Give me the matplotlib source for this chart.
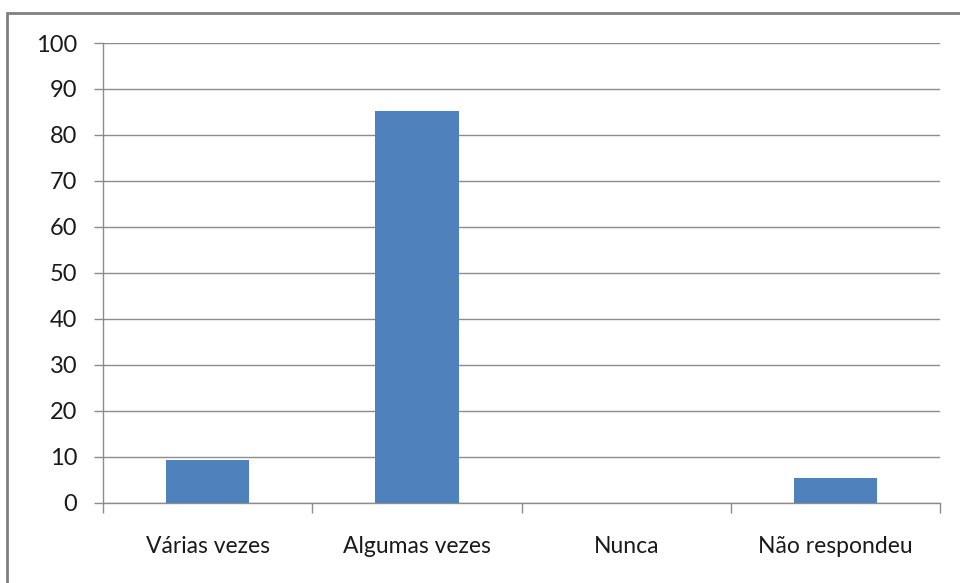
import matplotlib.pyplot as plt
from matplotlib.patches import Rectangle

# Dados
categorias = ['Várias vezes', 'Algumas vezes', 'Nunca', 'Não respondeu']
valores = [9.3, 85.2, 0, 5.3]
ticks_y = [0, 10, 20, 30, 40, 50, 60, 70, 80, 90, 100]

plt.rcParams['font.family'] = ['Lato', 'DejaVu Sans']

fig = plt.figure(figsize=(9.6, 5.83), dpi=100)
ax = fig.add_axes([103 / 960, 1 - 502.7 / 583, (940 - 103) / 960, (502.7 - 43) / 583])

x = range(len(categorias))
ax.bar(x, valores, width=0.4, color='#4F81BD', zorder=3)

ax.set_xlim(-0.5, len(categorias) - 0.5)
ax.set_ylim(0, 100)
ax.set_yticks(ticks_y)
ax.set_yticklabels([str(v) for v in ticks_y], fontsize=17, color='#1a1a1a')
ax.yaxis.grid(True, color='#8c8c8c', linewidth=1, zorder=0)

# ticks do eixo x nos limites das categorias
ax.set_xticks([i - 0.5 for i in range(len(categorias) + 1)])
ax.set_xticklabels([])
ax.set_xticks(list(x), minor=True)
ax.set_xticklabels(categorias, minor=True, fontsize=16.5, color='#1a1a1a')
ax.tick_params(axis='x', which='minor', length=0, pad=24)
ax.tick_params(axis='x', which='major', length=7, color='#8c8c8c', width=1)
ax.tick_params(axis='y', length=6.5, color='#8c8c8c', width=1, pad=12)

for lado in ['top', 'right']:
    ax.spines[lado].set_visible(False)
for lado in ['left', 'bottom']:
    ax.spines[lado].set_color('#8c8c8c')
    ax.spines[lado].set_linewidth(1)

# moldura do gráfico
fig.patches.append(Rectangle((7 / 960, -0.05), 1.1, 1 - 13 / 583 + 0.05,
                             transform=fig.transFigure, fill=False,
                             edgecolor='#808080', linewidth=2))

fig.savefig('out.png', dpi=100)
